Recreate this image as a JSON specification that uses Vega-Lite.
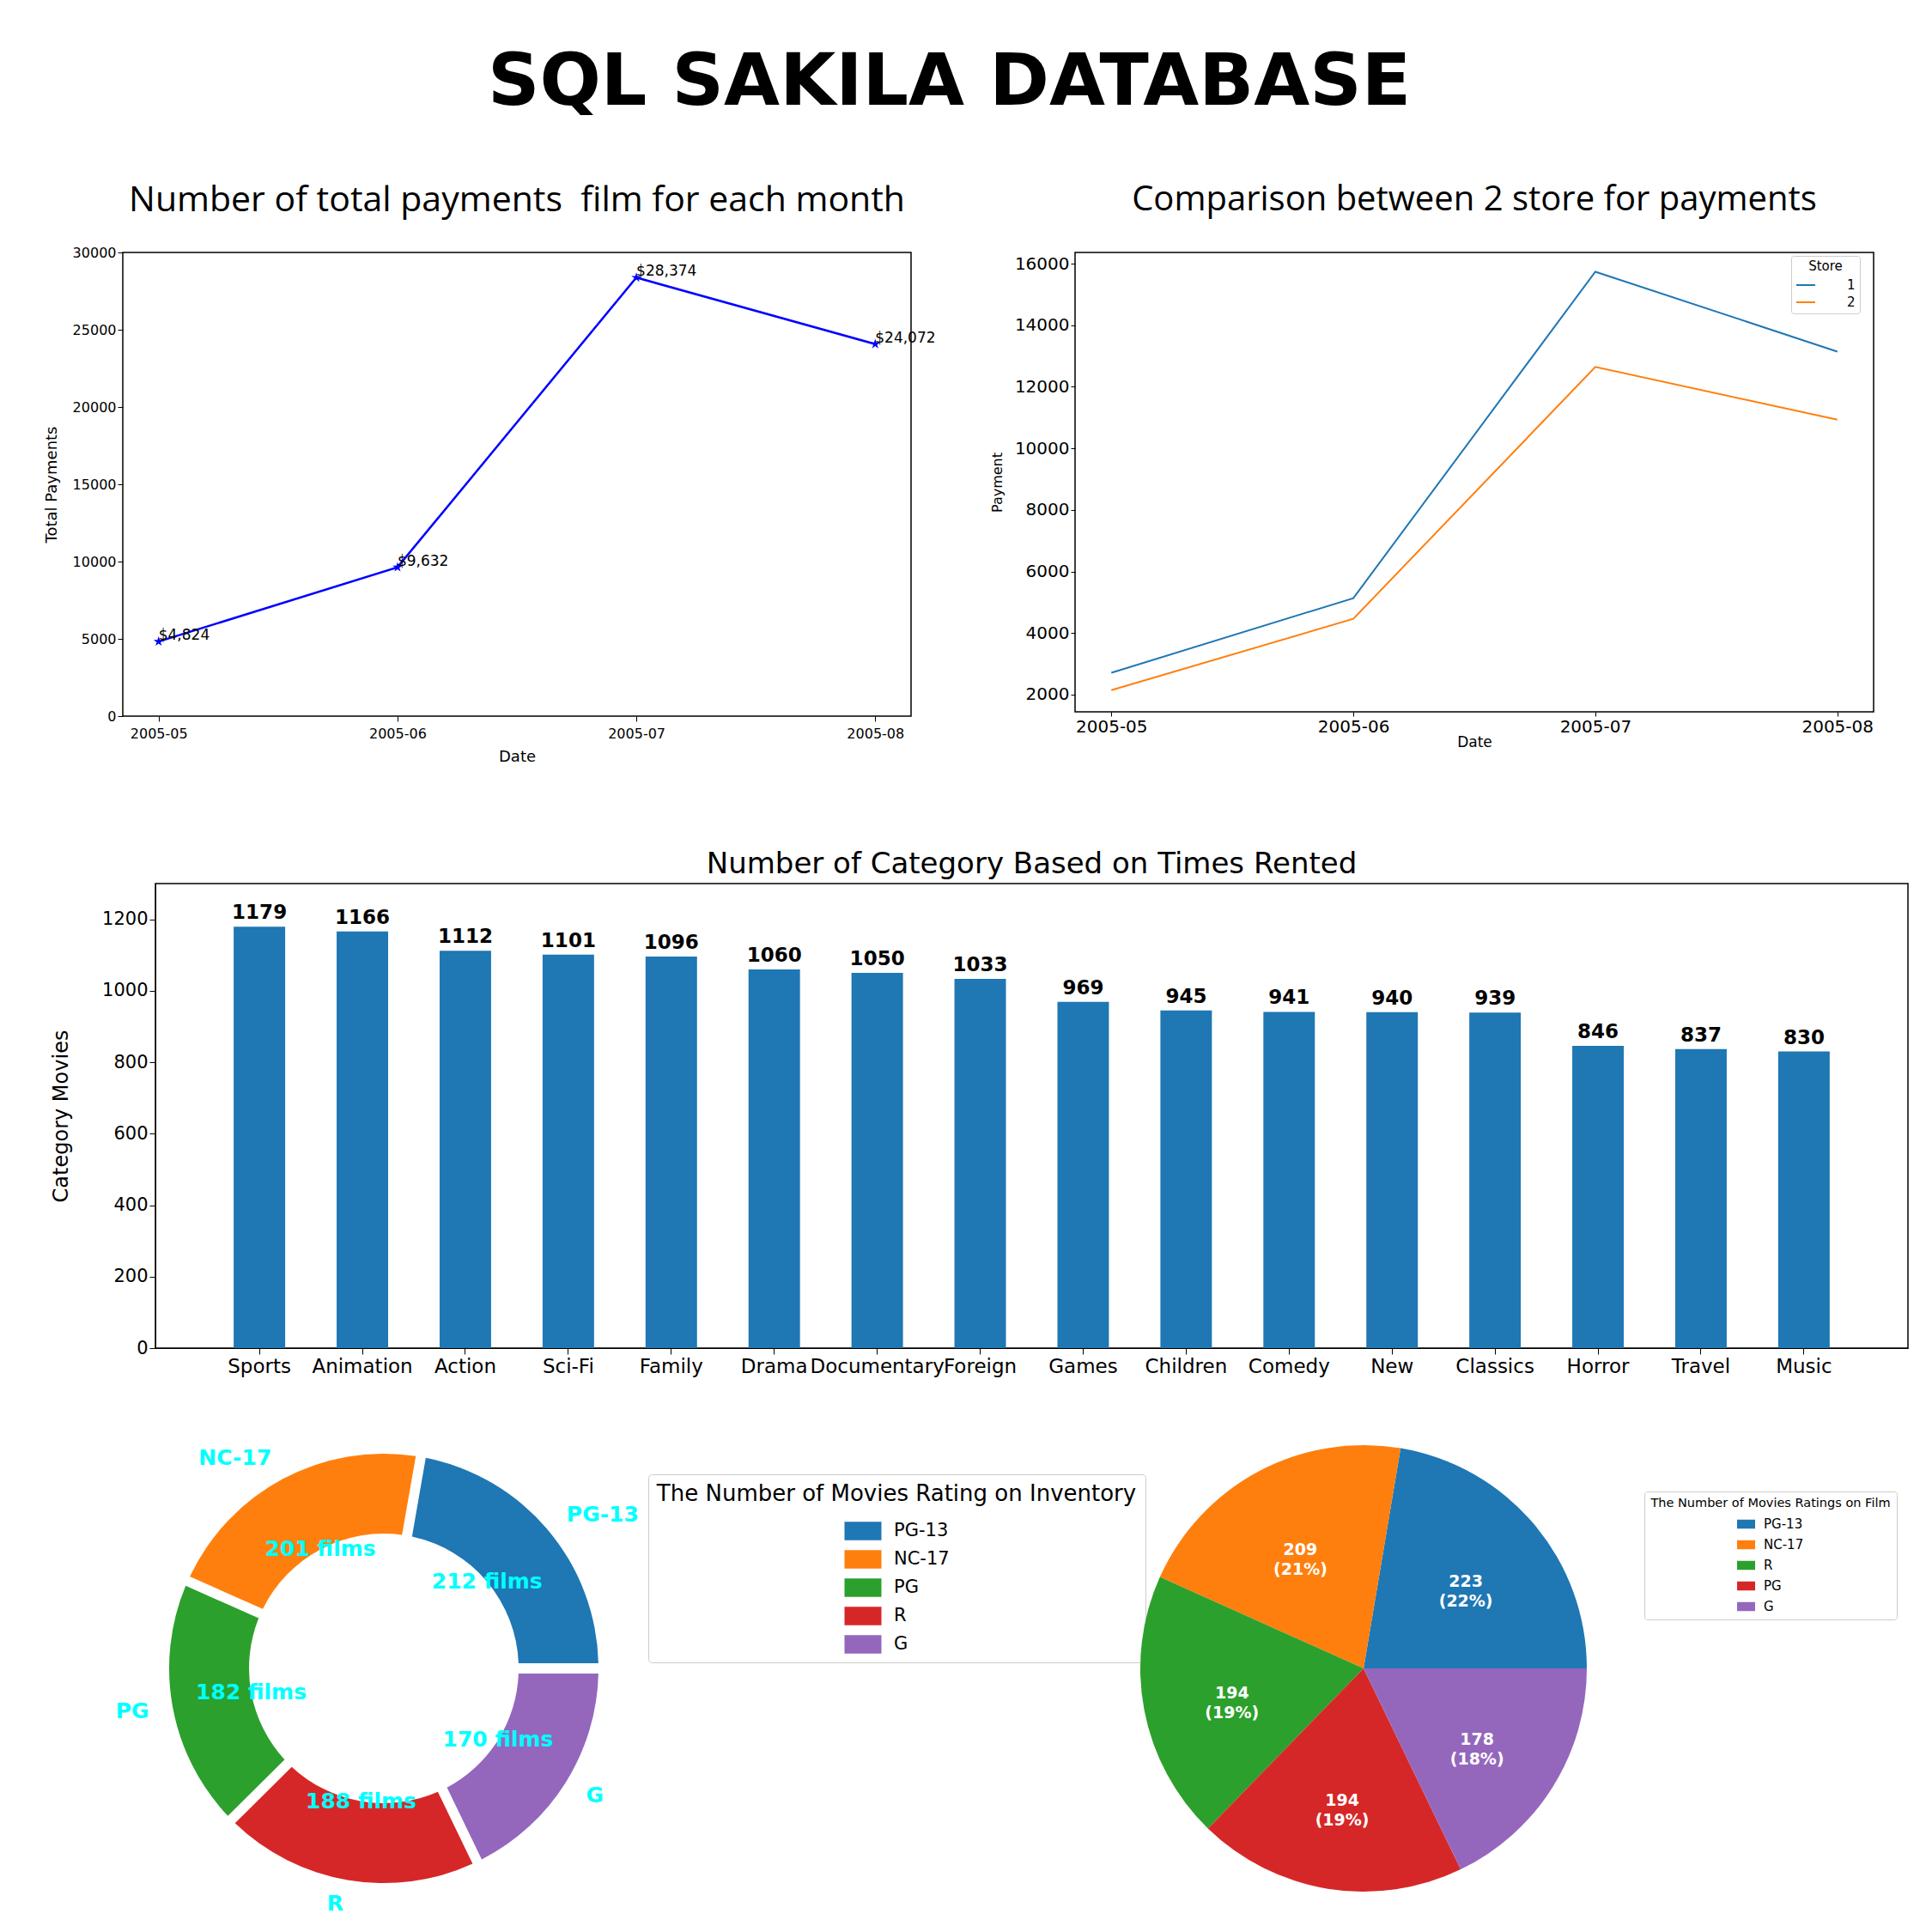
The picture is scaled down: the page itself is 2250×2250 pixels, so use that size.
{
  "$schema": "https://vega.github.io/schema/vega-lite/v6.json",
  "background": "white",
  "padding": {"left": 50, "top": 55, "right": 10, "bottom": 10},
  "title": {"text": "SQL SAKILA DATABASE", "font": "DejaVu Sans", "fontSize": 84, "fontWeight": "bold", "color": "black", "anchor": "middle", "offset": 72, "dx": -31},
  "config": {
    "font": "DejaVu Sans",
    "view": {"stroke": null},
    "axis": {"grid": false, "domainColor": "black", "tickColor": "black", "labelColor": "black", "titleColor": "black", "titleFontWeight": "normal", "labelFont": "DejaVu Sans", "titleFont": "DejaVu Sans"},
    "title": {"color": "black", "fontWeight": "normal"}
  },
  "bounds": "flush",
  "spacing": 735,
  "resolve": {"scale": {"color": "independent"}, "legend": {"color": "independent"}},
  "vconcat": [
    {
      "hconcat": [
        {
          "width": 918, "height": 540,
          "title": {"text": "Number of total payments \u00a0film for each month", "font": "Open Sans", "fontSize": 41, "offset": 31},
          "view": {"stroke": "black", "strokeWidth": 1.5},
          "data": {"values": [
            {"month": "2005-05", "total": 4824, "label": "$4,824"},
            {"month": "2005-06", "total": 9632, "label": "$9,632"},
            {"month": "2005-07", "total": 28374, "label": "$28,374"},
            {"month": "2005-08", "total": 24072, "label": "$24,072"}
          ]},
          "encoding": {
            "x": {"field": "month", "type": "ordinal", "scale": {"type": "point", "padding": 0.15},
                  "axis": {"title": "Date", "labelAngle": 0, "labelFontSize": 16, "titleFontSize": 18, "tickSize": 6, "labelPadding": 6, "titlePadding": 10, "domain": false}},
            "y": {"field": "total", "type": "quantitative", "scale": {"domain": [0, 30000], "nice": false},
                  "axis": {"title": "Total Payments", "values": [0, 5000, 10000, 15000, 20000, 25000, 30000], "format": "d", "labelFontSize": 16, "titleFontSize": 18, "tickSize": 6, "titlePadding": 15, "domain": false}}
          },
          "layer": [
            {"mark": {"type": "line", "color": "#0000ff", "strokeWidth": 2.5}},
            {"mark": {"type": "point", "shape": "M0,-1L0.2245,-0.309L0.951,-0.309L0.363,0.118L0.588,0.809L0,0.382L-0.588,0.809L-0.363,0.118L-0.951,-0.309L-0.2245,-0.309Z", "filled": true, "color": "#0000ff", "size": 150, "opacity": 1}},
            {"mark": {"type": "text", "align": "left", "baseline": "middle", "dy": -7, "fontSize": 17, "color": "black"}, "encoding": {"text": {"field": "label"}}}
          ]
        },
        {
          "width": 930, "height": 535,
          "title": {"text": "Comparison between 2 store for payments", "font": "Open Sans", "fontSize": 40, "offset": 41},
          "view": {"stroke": "black", "strokeWidth": 1.5},
          "data": {"values": [
            {"month": "2005-05", "store": "1", "payment": 2711},
            {"month": "2005-06", "store": "1", "payment": 5134},
            {"month": "2005-07", "store": "1", "payment": 15737},
            {"month": "2005-08", "store": "1", "payment": 13143},
            {"month": "2005-05", "store": "2", "payment": 2145},
            {"month": "2005-06", "store": "2", "payment": 4462},
            {"month": "2005-07", "store": "2", "payment": 12643},
            {"month": "2005-08", "store": "2", "payment": 10931}
          ]},
          "mark": {"type": "line", "strokeWidth": 2},
          "encoding": {
            "x": {"field": "month", "type": "ordinal", "scale": {"type": "point", "padding": 0.15},
                  "axis": {"title": "Date", "labelAngle": 0, "labelFontSize": 20, "titleFontSize": 17, "tickSize": 5, "labelPadding": 2, "titlePadding": 0, "domain": false}},
            "y": {"field": "payment", "type": "quantitative", "scale": {"domain": [1442, 16363], "nice": false, "zero": false},
                  "axis": {"title": "Payment", "values": [2000, 4000, 6000, 8000, 10000, 12000, 14000, 16000], "format": "d", "labelFontSize": 20, "titleFontSize": 16, "tickSize": 5, "titlePadding": 12, "domain": false}},
            "color": {"field": "store", "type": "nominal", "scale": {"domain": ["1", "2"], "range": ["#1f77b4", "#ff7f0e"]},
                      "legend": {"title": "Store", "orient": "none", "legendX": 834, "legendY": 4, "titleFontSize": 15, "titleFontWeight": "normal", "titleAnchor": "middle", "titlePadding": 2, "labelFontSize": 15, "labelOffset": 36, "symbolType": "stroke", "symbolStrokeWidth": 2, "symbolSize": 484, "strokeColor": "#cccccc", "fillColor": "white", "padding": 5, "cornerRadius": 3, "rowPadding": -3}}
          }
        }
      ],
      "spacing": 191,
      "bounds": "flush",
      "resolve": {"scale": {"color": "independent"}, "legend": {"color": "independent"}}
    },
    {
      "hconcat": [
        {"width": 38, "height": 541, "data": {"values": [{}]}, "mark": {"type": "point", "opacity": 0}, "encoding": {}},
        {
          "width": 2041, "height": 541,
          "title": {"text": "Number of Category Based on Times Rented", "fontSize": 34, "offset": 5},
          "view": {"stroke": "black", "strokeWidth": 1.5},
          "data": {"values": [
            {"category": "Sports", "rented": 1179},
            {"category": "Animation", "rented": 1166},
            {"category": "Action", "rented": 1112},
            {"category": "Sci-Fi", "rented": 1101},
            {"category": "Family", "rented": 1096},
            {"category": "Drama", "rented": 1060},
            {"category": "Documentary", "rented": 1050},
            {"category": "Foreign", "rented": 1033},
            {"category": "Games", "rented": 969},
            {"category": "Children", "rented": 945},
            {"category": "Comedy", "rented": 941},
            {"category": "New", "rented": 940},
            {"category": "Classics", "rented": 939},
            {"category": "Horror", "rented": 846},
            {"category": "Travel", "rented": 837},
            {"category": "Music", "rented": 830}
          ]},
          "encoding": {
            "x": {"field": "category", "type": "nominal", "sort": null, "scale": {"paddingInner": 0.5, "paddingOuter": 0.76},
                  "axis": {"title": null, "labelAngle": 0, "labelFontSize": 23, "tickSize": 7, "labelPadding": 3, "labelOverlap": false, "labelLimit": 300, "domain": true}},
            "y": {"field": "rented", "type": "quantitative", "scale": {"domain": [0, 1300], "nice": false},
                  "axis": {"title": "Category Movies", "values": [0, 200, 400, 600, 800, 1000, 1200], "format": "d", "labelFontSize": 21, "titleFontSize": 24, "tickSize": 7, "titlePadding": 35, "domain": true}}
          },
          "layer": [
            {"mark": {"type": "bar", "color": "#1f77b4"}},
            {"mark": {"type": "text", "baseline": "bottom", "dy": -4, "fontSize": 23, "fontWeight": "bold", "color": "black"}, "encoding": {"text": {"field": "rented", "type": "quantitative"}}}
          ]
        }
      ],
      "spacing": 0,
      "bounds": "flush"
    },
    {
      "hconcat": [
        {
          "width": 608, "height": 358,
          "data": {"values": [
            {"rating": "PG-13", "count": 212, "idx": 0, "films": "212 films", "side": "right"},
            {"rating": "NC-17", "count": 201, "idx": 1, "films": "201 films", "side": "left"},
            {"rating": "PG", "count": 182, "idx": 2, "films": "182 films", "side": "left"},
            {"rating": "R", "count": 188, "idx": 3, "films": "188 films", "side": "left"},
            {"rating": "G", "count": 170, "idx": 4, "films": "170 films", "side": "right"}
          ]},
          "encoding": {
            "theta": {"field": "count", "type": "quantitative", "stack": true, "scale": {"range": [1.5708, -4.7124]}},
            "order": {"field": "idx", "type": "quantitative"}
          },
          "layer": [
            {"mark": {"type": "arc", "outerRadius": 250, "innerRadius": 157, "padAngle": 0.04},
             "encoding": {"color": {"field": "rating", "type": "nominal", "sort": ["PG-13", "NC-17", "PG", "R", "G"],
               "scale": {"domain": ["PG-13", "NC-17", "PG", "R", "G"], "range": ["#1f77b4", "#ff7f0e", "#2ca02c", "#d62728", "#9467bd"]},
               "legend": {"title": "The Number of Movies Rating on Inventory", "orient": "none", "legendX": 612, "legendY": -47,
                 "titleFontSize": 26, "titleFontWeight": "normal", "titleAnchor": "middle", "titlePadding": 8, "titleLimit": 1000,
                 "labelFontSize": 21, "labelOffset": 14, "symbolType": "M-1,-0.5H1V0.5H-1Z", "symbolSize": 1850, "symbolStrokeWidth": 0, "symbolOffset": 0,
                 "rowPadding": -9, "strokeColor": "#cccccc", "fillColor": "white", "padding": 10, "cornerRadius": 4}}}},
            {"mark": {"type": "text", "radius": 157, "fontSize": 25, "fontWeight": "bold", "color": "#00ffff"},
             "encoding": {"text": {"field": "films"}, "detail": {"field": "rating"}}},
            {"mark": {"type": "text", "radius": 278, "align": "left", "fontSize": 25, "fontWeight": "bold", "color": "#00ffff"},
             "encoding": {"text": {"condition": {"test": "datum.side === 'right'", "field": "rating"}, "value": ""}, "detail": {"field": "rating"}}},
            {"mark": {"type": "text", "radius": 278, "align": "right", "fontSize": 25, "fontWeight": "bold", "color": "#00ffff"},
             "encoding": {"text": {"condition": {"test": "datum.side === 'left'", "field": "rating"}, "value": ""}, "detail": {"field": "rating"}}}
          ]
        },
        {
          "width": 560, "height": 358,
          "data": {"values": [
            {"rating2": "PG-13", "count": 223, "idx": 0, "lab": "223\n(22%)"},
            {"rating2": "NC-17", "count": 209, "idx": 1, "lab": "209\n(21%)"},
            {"rating2": "R", "count": 194, "idx": 2, "lab": "194\n(19%)"},
            {"rating2": "PG", "count": 194, "idx": 3, "lab": "194\n(19%)"},
            {"rating2": "G", "count": 178, "idx": 4, "lab": "178\n(18%)"}
          ]},
          "encoding": {
            "theta": {"field": "count", "type": "quantitative", "stack": true, "scale": {"range": [1.5708, -4.7124]}},
            "order": {"field": "idx", "type": "quantitative"}
          },
          "layer": [
            {"mark": {"type": "arc", "outerRadius": 260},
             "encoding": {"color": {"field": "rating2", "type": "nominal", "sort": ["PG-13", "NC-17", "R", "PG", "G"],
               "scale": {"domain": ["PG-13", "NC-17", "R", "PG", "G"], "range": ["#1f77b4", "#ff7f0e", "#2ca02c", "#d62728", "#9467bd"]},
               "legend": {"title": "The Number of Movies Ratings on Film", "orient": "none", "legendX": 607, "legendY": -27,
                 "titleFontSize": 14.5, "titleFontWeight": "normal", "titleAnchor": "middle", "titlePadding": 6, "titleLimit": 1000,
                 "labelFontSize": 15, "labelOffset": 10, "symbolType": "M-1,-0.5H1V0.5H-1Z", "symbolSize": 441, "symbolStrokeWidth": 0, "symbolOffset": 0,
                 "rowPadding": 5, "strokeColor": "#cccccc", "fillColor": "white", "padding": 7, "cornerRadius": 3}}}},
            {"mark": {"type": "text", "radius": 156, "fontSize": 19, "fontWeight": "bold", "color": "white", "lineBreak": "\n", "lineHeight": 23},
             "encoding": {"text": {"field": "lab"}, "detail": {"field": "rating2"}}}
          ]
        }
      ],
      "spacing": 557,
      "bounds": "flush",
      "resolve": {"scale": {"color": "independent"}, "legend": {"color": "independent"}}
    }
  ]
}
